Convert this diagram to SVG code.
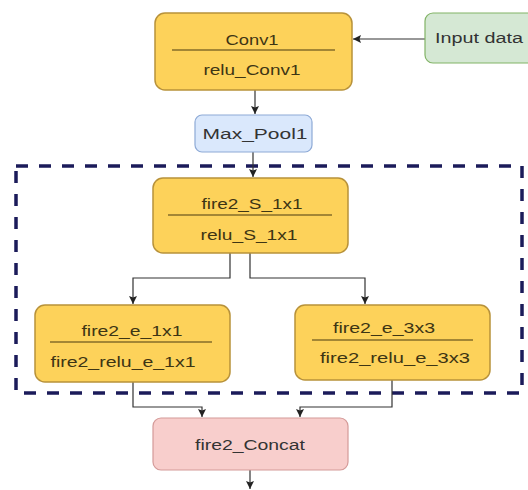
<svg xmlns="http://www.w3.org/2000/svg" width="528" height="490" viewBox="0 0 528 490">
<defs>
<marker id="arr" markerWidth="10" markerHeight="10" refX="9" refY="5" orient="auto" markerUnits="userSpaceOnUse">
<path d="M1,1 L9,5 L1,9 L2.5,5 Z" fill="#222"/>
</marker>
<style>
.orange{fill:#fdd25a;stroke:#b8923a;stroke-width:1.5}
.green{fill:#d5e8d4;stroke:#82b366;stroke-width:1.2}
.blue{fill:#dae8fc;stroke:#8eaad6;stroke-width:1.2}
.pink{fill:#f8cecc;stroke:#d49a98;stroke-width:1.2}
.div{stroke:#4a3a10;stroke-width:1.2}
.t{font-family:"Liberation Sans",Arial,sans-serif;font-size:14px;fill:#333;text-anchor:middle;dominant-baseline:central}
.o{fill:#3d3514}
.c{fill:none;stroke:#333;stroke-width:1.2}
.dash{fill:none;stroke:#1b1b5a;stroke-width:3.5;stroke-dasharray:12 11}
</style>
</defs>
<rect width="528" height="490" fill="#fff"/>
<rect class="dash" x="16" y="166" width="506" height="227"/>
<g id="connectors">
<path class="c" d="M425,39 L353,39" marker-end="url(#arr)"/>
<path class="c" d="M255,90 L255,114" marker-end="url(#arr)"/>
<path class="c" d="M253,152 L253,177" marker-end="url(#arr)"/>
<path class="c" d="M230,253 L230,278 L133,278 L133,304" marker-end="url(#arr)"/>
<path class="c" d="M250,253 L250,278 L365,278 L365,304" marker-end="url(#arr)"/>
<path class="c" d="M133,382 L133,407 L202,407 L202,417" marker-end="url(#arr)"/>
<path class="c" d="M392,380 L392,407 L300,407 L300,417" marker-end="url(#arr)"/>
<path class="c" d="M250,470 L250,489" marker-end="url(#arr)"/>
</g>
<g id="conv1">
<rect class="orange" x="155" y="13" width="197" height="77" rx="10"/>
<line class="div" x1="172" y1="50" x2="335" y2="50"/>
<text class="t o" x="252" y="40" textLength="53" lengthAdjust="spacingAndGlyphs">Conv1</text>
<text class="t o" x="252" y="70" textLength="97" lengthAdjust="spacingAndGlyphs">relu_Conv1</text>
</g>
<g id="input">
<rect class="green" x="425" y="13" width="115" height="50" rx="8"/>
<text class="t" x="479" y="38" textLength="88" lengthAdjust="spacingAndGlyphs">Input data</text>
</g>
<g id="maxpool1">
<rect class="blue" x="195" y="115" width="117" height="37" rx="7"/>
<text class="t" x="255" y="134" textLength="105" lengthAdjust="spacingAndGlyphs">Max_Pool1</text>
</g>
<g id="fire2_s">
<rect class="orange" x="153" y="178" width="195" height="75" rx="10"/>
<line class="div" x1="168" y1="215" x2="332" y2="215"/>
<text class="t o" x="252" y="204" textLength="101" lengthAdjust="spacingAndGlyphs">fire2_S_1x1</text>
<text class="t o" x="249" y="235" textLength="97" lengthAdjust="spacingAndGlyphs">relu_S_1x1</text>
</g>
<g id="fire2_e1">
<rect class="orange" x="35" y="305" width="195" height="77" rx="10"/>
<line class="div" x1="50" y1="342" x2="212" y2="342"/>
<text class="t o" x="132" y="331" textLength="101" lengthAdjust="spacingAndGlyphs">fire2_e_1x1</text>
<text class="t o" x="123" y="362" textLength="145" lengthAdjust="spacingAndGlyphs">fire2_relu_e_1x1</text>
</g>
<g id="fire2_e3">
<rect class="orange" x="295" y="305" width="195" height="75" rx="10"/>
<line class="div" x1="312" y1="340" x2="473" y2="340"/>
<text class="t o" x="384" y="328" textLength="102" lengthAdjust="spacingAndGlyphs">fire2_e_3x3</text>
<text class="t o" x="395" y="358" textLength="150" lengthAdjust="spacingAndGlyphs">fire2_relu_e_3x3</text>
</g>
<g id="concat">
<rect class="pink" x="153" y="418" width="195" height="52" rx="8"/>
<text class="t" x="250" y="445" textLength="110" lengthAdjust="spacingAndGlyphs">fire2_Concat</text>
</g>
</svg>
